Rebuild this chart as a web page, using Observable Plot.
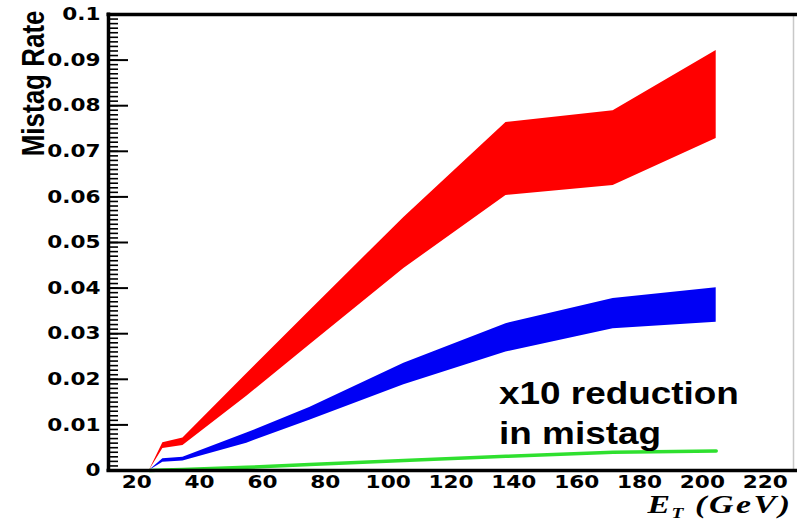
<!DOCTYPE html>
<html>
<head>
<meta charset="utf-8">
<script src="https://cdn.jsdelivr.net/npm/d3@7"></script>
<script src="https://cdn.jsdelivr.net/npm/@observablehq/plot@0.6"></script>
<style>
  html, body { margin: 0; padding: 0; background: #fff; }
  #chart { width: 797px; height: 522px; overflow: hidden; }
</style>
</head>
<body>
<div id="chart"></div>
<script>
// ---- data ----
const etGeV    = [24, 28.3, 34.7, 55, 75, 105, 137.5, 171.6, 204.4];
const redLow   = [0, 0.0048, 0.0055, 0.0163, 0.0275, 0.0443, 0.0603, 0.0625, 0.0728];
const redHigh  = [0, 0.0061, 0.0071, 0.0212, 0.0350, 0.0555, 0.0763, 0.0789, 0.0921];
const blueLow  = [0, 0.0018, 0.0021, 0.0060, 0.0110, 0.0188, 0.0260, 0.0311, 0.0325];
const blueHigh = [0, 0.0026, 0.0029, 0.0082, 0.0138, 0.0235, 0.0322, 0.0377, 0.0401];
const greenRate = [0, 0.0001, 0.0002, 0.0007, 0.0013, 0.0022, 0.0031, 0.0040, 0.0043];

const xTickLabels = [20, 40, 60, 80, 100, 120, 140, 160, 180, 200, 220];
const yTickLabels = [0, 0.01, 0.02, 0.03, 0.04, 0.05, 0.06, 0.07, 0.08, 0.09, 0.1];
const xRange = [11, 229];
const yRange = [0, 0.1];

const yTitle = ["Mistag Rate"];
const xTitleMain = ["E"];
const xTitleSub = ["T"];
const xTitleUnit = ["(GeV)"];
const annotationText = ["x10 reduction\nin mistag"];
const annotationEt = [135.3];
const annotationRate = [0.0059];

// ---- table built from the arrays ----
const rows = etGeV.map((et, i) => ({
  et, redLow: redLow[i], redHigh: redHigh[i],
  blueLow: blueLow[i], blueHigh: blueHigh[i], green: greenRate[i]
}));
const annotations = annotationText.map((t, i) => ({text: t, et: annotationEt[i], rate: annotationRate[i]}));

const W = 797, H = 522, ML = 108, MR = 4, MT = 14, MB = 52;
const frameW = W - ML - MR;
const minorTicks = d3.scaleLinear().domain(yRange).ticks(100);

const chart = Plot.plot({
  width: W, height: H,
  marginLeft: ML, marginRight: MR, marginTop: MT, marginBottom: MB,
  x: {domain: xRange},
  y: {domain: yRange},
  style: {fontFamily: "DejaVu Sans", background: "white", color: "black", overflow: "visible"},
  marks: [
    Plot.areaY(rows, {x: "et", y1: "redLow", y2: "redHigh", fill: "#ff0000"}),
    Plot.areaY(rows, {x: "et", y1: "blueLow", y2: "blueHigh", fill: "#0000f5"}),
    Plot.line(rows, {x: "et", y: "green", stroke: "#2fe02f", strokeWidth: 3.5}),
    // minor / major tick marks on the inside of the y axis
    Plot.ruleY(minorTicks, {stroke: "black", strokeWidth: 1.6, insetRight: frameW - 10}),
    Plot.ruleY(yTickLabels, {stroke: "black", strokeWidth: 2, insetRight: frameW - 20}),
    // frame
    Plot.ruleX([xRange[1]], {stroke: "#c8c8c8", strokeWidth: 1.5}),
    Plot.ruleY([yRange[1]], {stroke: "black", strokeWidth: 3.5, insetLeft: -1.5, insetRight: -6}),
    Plot.ruleY([yRange[0]], {stroke: "black", strokeWidth: 3.5, insetLeft: -1.5, insetRight: -6}),
    Plot.ruleX([xRange[0]], {stroke: "black", strokeWidth: 3.5, insetTop: -1.5, insetBottom: -1.5}),
    // axes (labels only)
    Plot.axisY({ticks: yTickLabels, tickSize: 0, tickPadding: 8, label: null,
      tickFormat: d => d === 0 ? "0" : String(+d.toFixed(3)),
      fontSize: 18, fontWeight: "bold", fontFamily: "DejaVu Sans"}),
    Plot.axisX({ticks: xTickLabels, tickSize: 0, tickPadding: 5, label: null,
      tickFormat: d => String(d),
      fontSize: 18, fontWeight: "bold", fontFamily: "DejaVu Sans"}),
    // axis titles
    Plot.text(yTitle, {frameAnchor: "top-left", text: d => d, rotate: -90, textAnchor: "end",
      dx: -87, dy: -4, fontSize: 26, fontWeight: "bold", fontFamily: "Liberation Sans", fill: "black"}),
    Plot.text(xTitleMain, {frameAnchor: "bottom-right", text: d => d, textAnchor: "start",
      lineAnchor: "bottom", dx: -146, dy: 42, fontSize: 26, fontWeight: "bold", fontStyle: "italic",
      fontFamily: "Liberation Serif", fill: "black"}),
    Plot.text(xTitleSub, {frameAnchor: "bottom-right", text: d => d, textAnchor: "start",
      lineAnchor: "bottom", dx: -122, dy: 47, fontSize: 15, fontWeight: "bold", fontStyle: "italic",
      fontFamily: "Liberation Serif", fill: "black"}),
    Plot.text(xTitleUnit, {frameAnchor: "bottom-right", text: d => d, textAnchor: "end",
      lineAnchor: "bottom", dx: -1, dy: 42, fontSize: 26, fontWeight: "bold", fontStyle: "italic",
      fontFamily: "Liberation Serif", fill: "black"}),
    // annotation
    Plot.text(annotations, {x: "et", y: "rate", text: "text", textAnchor: "start", lineAnchor: "bottom",
      lineHeight: 1.29, fontSize: 31, fontWeight: "bold", fontFamily: "Liberation Sans", fill: "black"})
  ]
});

document.getElementById("chart").appendChild(chart);

// horizontal stretch of the lettering, as in the reference picture
function stretchEl(el, sx, sy, spacing) {
  const tr = el.getAttribute("transform") || "";
  el.setAttribute("transform", `${tr} scale(${sx},${sy})`);
  if (spacing) el.setAttribute("letter-spacing", spacing);
}
chart.querySelectorAll("text").forEach(el => {
  const s = el.textContent.trim();
  if (/^[0-9.]+$/.test(s)) stretchEl(el, 1.2, 1);
  else if (s === yTitle[0]) stretchEl(el, 1, 1.24);
  else if (s === xTitleMain[0] || s === xTitleSub[0]) stretchEl(el, 1.3, 1);
  else if (s === xTitleUnit[0]) stretchEl(el, 1.3, 1, "2px");
  else if (s.includes("reduction")) stretchEl(el, 1.19, 1);
});
</script>
</body>
</html>
